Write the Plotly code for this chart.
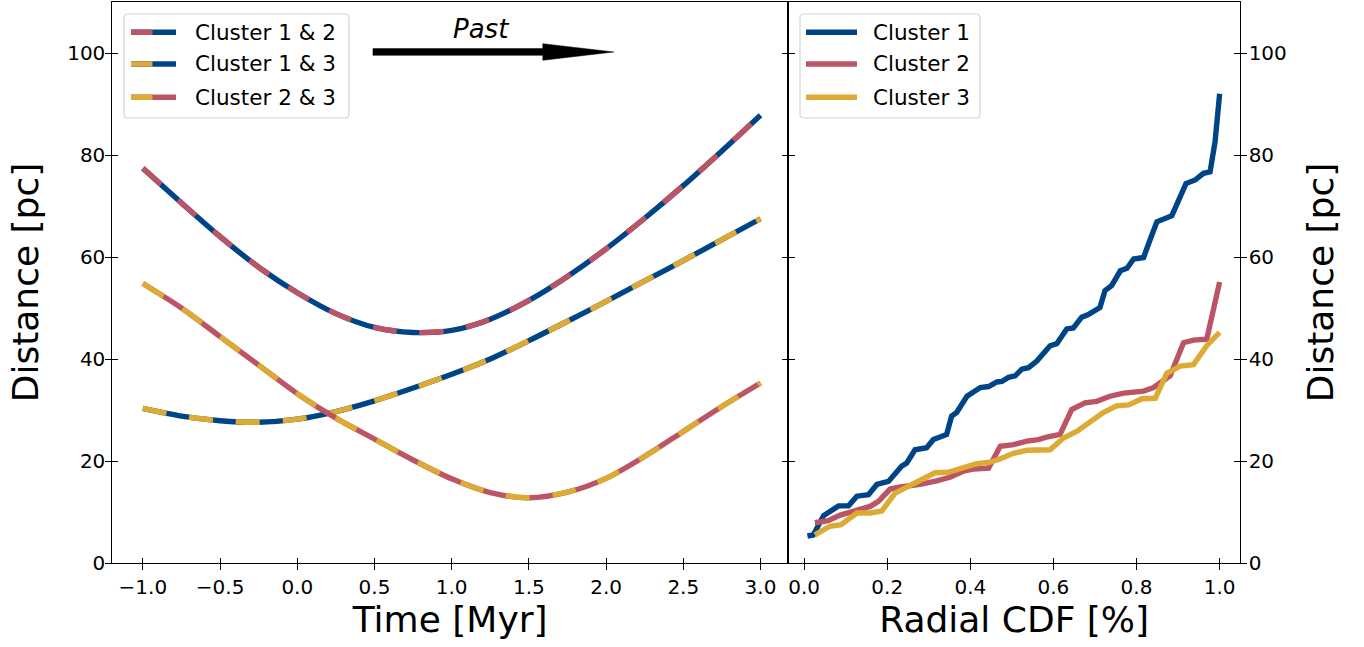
import plotly.graph_objects as go

# ---------------- data ----------------
time_myr = [-1.0, -0.75, -0.5, -0.25, 0.0, 0.25, 0.5, 0.75, 1.0,
            1.25, 1.5, 1.75, 2.0, 2.25, 2.5, 2.75, 3.0]
dist_c12 = [77.4, 70.6, 64.0, 58.0, 53.0, 48.9, 46.2, 45.2, 45.6,
            47.8, 51.5, 56.2, 61.6, 67.6, 74.0, 80.8, 87.8]
dist_c13 = [30.3, 28.8, 27.9, 27.6, 28.2, 29.7, 31.8, 34.3, 37.0,
            40.0, 43.6, 47.4, 51.3, 55.3, 59.3, 63.4, 67.5]
dist_c23 = [54.8, 50.0, 44.4, 38.8, 33.2, 28.4, 24.3, 20.2, 16.5,
            13.8, 12.8, 13.9, 16.6, 20.9, 25.8, 30.7, 35.3]

cdf1_x = [0.008, 0.022, 0.047, 0.058, 0.083, 0.107, 0.127, 0.155, 0.175, 0.203,
          0.235, 0.247, 0.267, 0.295, 0.311, 0.343, 0.355, 0.367, 0.392, 0.424,
          0.444, 0.464, 0.476, 0.492, 0.508, 0.524, 0.540, 0.560, 0.592, 0.608,
          0.632, 0.648, 0.668, 0.684, 0.712, 0.724, 0.740, 0.761, 0.777, 0.793,
          0.817, 0.829, 0.849, 0.885, 0.919, 0.941, 0.961, 0.977, 0.989, 1.0]
cdf1_d = [5.3, 5.5, 9.3, 9.8, 11.2, 11.2, 13.1, 13.4, 15.4, 16.0,
          19.0, 19.6, 22.2, 22.6, 24.2, 25.2, 28.8, 29.5, 32.7, 34.4,
          34.6, 35.5, 35.6, 36.4, 36.7, 38.0, 38.3, 39.6, 42.6, 43.0,
          45.9, 46.1, 48.2, 48.7, 50.1, 53.4, 54.4, 57.3, 57.8, 59.6,
          59.9, 62.6, 66.9, 68.1, 74.4, 75.1, 76.4, 76.7, 82.6, 92.0]

cdf2_x = [0.026, 0.058, 0.087, 0.127, 0.159, 0.179, 0.207, 0.231, 0.279, 0.319,
          0.351, 0.383, 0.407, 0.444, 0.472, 0.504, 0.536, 0.564, 0.584, 0.616,
          0.644, 0.676, 0.704, 0.736, 0.769, 0.817, 0.841, 0.881, 0.913, 0.937,
          0.969, 1.0]
cdf2_d = [7.9, 8.3, 9.4, 10.3, 11.1, 12.1, 14.5, 14.9, 15.4, 16.1,
          16.8, 18.0, 18.4, 18.6, 22.9, 23.2, 23.9, 24.2, 24.7, 25.2,
          30.1, 31.4, 31.7, 32.7, 33.3, 33.7, 34.4, 36.7, 43.2, 43.7,
          43.9, 55.1]

cdf3_x = [0.026, 0.062, 0.089, 0.127, 0.159, 0.187, 0.219, 0.247, 0.279, 0.315,
          0.347, 0.383, 0.415, 0.444, 0.468, 0.504, 0.536, 0.592, 0.624, 0.656,
          0.688, 0.720, 0.752, 0.781, 0.813, 0.845, 0.873, 0.905, 0.937, 0.969,
          1.0]
cdf3_d = [5.5, 7.2, 7.5, 9.8, 9.8, 10.2, 13.7, 14.9, 16.0, 17.7,
          17.8, 18.8, 19.5, 19.7, 20.3, 21.5, 22.1, 22.2, 24.5, 25.8,
          27.5, 29.5, 30.8, 31.0, 32.2, 32.3, 37.2, 38.6, 38.9, 42.6,
          45.2]

x_ticks_time = [-1.0, -0.5, 0.0, 0.5, 1.0, 1.5, 2.0, 2.5, 3.0]
x_ticks_cdf = [0.0, 0.2, 0.4, 0.6, 0.8, 1.0]
y_ticks = [0, 20, 40, 60, 80, 100]

pair_names = ["Cluster 1 & 2", "Cluster 1 & 3", "Cluster 2 & 3"]
cluster_names = ["Cluster 1", "Cluster 2", "Cluster 3"]

# ---------------- style ----------------
BLUE = "#004488"
RED = "#BB5566"
YELLOW = "#DDAA33"
FONT = "DejaVu Sans"
W, H = 1364, 647
ML, MR, MT, MB = 112, 124, 2, 84
PW, PH = W - ML - MR, H - MT - MB
SPLIT = (788.3 - ML) / PW
LW = 5.4
DASH = "24px,23px"


def px_x(px):
    return (px - ML) / PW


def px_y(py):
    return (H - MB - py) / PH


fig = go.Figure()

pairs = [(dist_c12, BLUE, RED), (dist_c13, BLUE, YELLOW), (dist_c23, RED, YELLOW)]
for vals, base, dash in pairs:
    fig.add_trace(go.Scatter(x=time_myr, y=vals, mode="lines",
                             line=dict(color=base, width=LW, shape="spline", smoothing=0.8),
                             showlegend=False, xaxis="x", yaxis="y"))
    fig.add_trace(go.Scatter(x=time_myr, y=vals, mode="lines",
                             line=dict(color=dash, width=LW, shape="spline", smoothing=0.8, dash=DASH),
                             showlegend=False, xaxis="x", yaxis="y"))

for xs, ds, col in [(cdf1_x, cdf1_d, BLUE), (cdf2_x, cdf2_d, RED), (cdf3_x, cdf3_d, YELLOW)]:
    fig.add_trace(go.Scatter(x=xs, y=ds, mode="lines", line=dict(color=col, width=LW),
                             showlegend=False, xaxis="x2", yaxis="y2"))

# empty traces so the overlay (inside-tick) axes are drawn
fig.add_trace(go.Scatter(x=[], y=[], xaxis="x3", yaxis="y3", showlegend=False))
fig.add_trace(go.Scatter(x=[], y=[], xaxis="x4", yaxis="y4", showlegend=False))

tickfont = dict(family=FONT, size=20, color="black")
titlefont = dict(family=FONT, size=36, color="black")
common = dict(showgrid=False, zeroline=False, linecolor="black", linewidth=1.3,
              tickcolor="black", tickwidth=1.3, ticklen=5.5, tickfont=tickfont)

XR1 = [-1.2, 3.18]
XR2 = [-0.038, 1.049]
YR = [0, 110]

fig.update_layout(
    width=W, height=H, margin=dict(l=ML, r=MR, t=MT, b=MB),
    paper_bgcolor="white", plot_bgcolor="white",
    font=dict(family=FONT, color="black"),
    xaxis=dict(domain=[0, SPLIT], range=XR1, tickvals=x_ticks_time,
               ticktext=[("\u2212" if v < 0 else "") + f"{abs(v):.1f}" for v in x_ticks_time],
               ticks="outside", showline=True, mirror=True, anchor="y",
               title=dict(text="Time [Myr]", font=titlefont, standoff=8), **common),
    yaxis=dict(domain=[0, 1], range=YR, tickvals=y_ticks, ticks="outside",
               showline=True, mirror="ticks", anchor="x", ticklabelstandoff=-4,
               title=dict(text="Distance [pc]", font=titlefont, standoff=17), **common),
    xaxis2=dict(domain=[SPLIT, 1], range=XR2, tickvals=x_ticks_cdf,
                ticktext=[f"{v:.1f}" for v in x_ticks_cdf],
                ticks="outside", showline=True, mirror=True, anchor="y2",
                title=dict(text="Radial CDF [%]", font=titlefont, standoff=8), **common),
    yaxis2=dict(domain=[0, 1], range=YR, tickvals=y_ticks, ticks="outside", side="right",
                showline=True, mirror="ticks", anchor="x2", ticklabelstandoff=-2,
                title=dict(text="Distance [pc]", font=titlefont, standoff=21), **common),
    xaxis3=dict(overlaying="x", range=XR1, tickvals=x_ticks_time, ticks="inside",
                showticklabels=False, showline=False, anchor="y3", side="bottom", **common),
    yaxis3=dict(overlaying="y", range=YR, tickvals=y_ticks, ticks="inside",
                showticklabels=False, showline=True, mirror="ticks", anchor="x3", **common),
    xaxis4=dict(overlaying="x2", range=XR2, tickvals=x_ticks_cdf, ticks="inside",
                showticklabels=False, showline=False, anchor="y4", side="bottom", **common),
    yaxis4=dict(overlaying="y2", range=YR, tickvals=y_ticks, ticks="inside", side="right",
                showticklabels=False, showline=True, mirror="ticks", anchor="x4", **common),
)

shapes = []
annotations = []


def rounded_box(x0, y0, x1, y1, r=4):
    X0, X1 = px_x(x0), px_x(x1)
    Y0, Y1 = px_y(y0), px_y(y1)  # Y0 top, Y1 bottom
    rx, ry = r / PW, r / PH
    path = (f"M {X0+rx},{Y0} L {X1-rx},{Y0} Q {X1},{Y0} {X1},{Y0-ry} "
            f"L {X1},{Y1+ry} Q {X1},{Y1} {X1-rx},{Y1} L {X0+rx},{Y1} "
            f"Q {X0},{Y1} {X0},{Y1+ry} L {X0},{Y0-ry} Q {X0},{Y0} {X0+rx},{Y0} Z")
    return dict(type="path", path=path, xref="paper", yref="paper",
                fillcolor="rgba(255,255,255,0.85)", line=dict(color="#d4d4d4", width=1.2))


def hline(x0, x1, y, color):
    return dict(type="line", xref="paper", yref="paper", x0=px_x(x0), x1=px_x(x1),
                y0=px_y(y), y1=px_y(y), line=dict(color=color, width=LW))


legend_rows = [32.3, 64.0, 97.3]

# left legend
shapes.append(rounded_box(124, 14, 349, 118))
for (vals, base, dash), name, ry in zip(pairs, pair_names, legend_rows):
    shapes.append(hline(131, 176, ry, base))
    shapes.append(hline(131, 152.5, ry, dash))
    annotations.append(dict(text=name, xref="paper", yref="paper", x=px_x(193), y=px_y(ry),
                            xanchor="left", yanchor="middle", showarrow=False,
                            font=dict(family=FONT, size=21.5, color="black")))

# right legend
shapes.append(rounded_box(800, 14, 980, 118))
for col, name, ry in zip([BLUE, RED, YELLOW], cluster_names, legend_rows):
    shapes.append(hline(806, 857, ry, col))
    annotations.append(dict(text=name, xref="paper", yref="paper", x=px_x(871), y=px_y(ry),
                            xanchor="left", yanchor="middle", showarrow=False,
                            font=dict(family=FONT, size=21.5, color="black")))

# "Past" arrow (data coordinates of the left panel)
ay, sh, hh = 100.2, 0.66, 1.63
shapes.append(dict(type="path", xref="x", yref="y",
                   path=f"M 0.49,{ay-sh} L 1.59,{ay-sh} L 1.59,{ay-hh} L 2.05,{ay} "
                        f"L 1.59,{ay+hh} L 1.59,{ay+sh} L 0.49,{ay+sh} Z",
                   fillcolor="black", line=dict(color="black", width=0.5)))
annotations.append(dict(text="<i>Past</i>", xref="x", yref="y", x=1.19, y=104.8,
                        xanchor="center", yanchor="middle", showarrow=False,
                        font=dict(family=FONT, size=26, color="black")))

fig.update_layout(shapes=shapes, annotations=annotations)

fig.write_html("out.html", config={"displayModeBar": False},
               post_script="document.body.style.margin='0px';document.body.style.padding='0px';")
